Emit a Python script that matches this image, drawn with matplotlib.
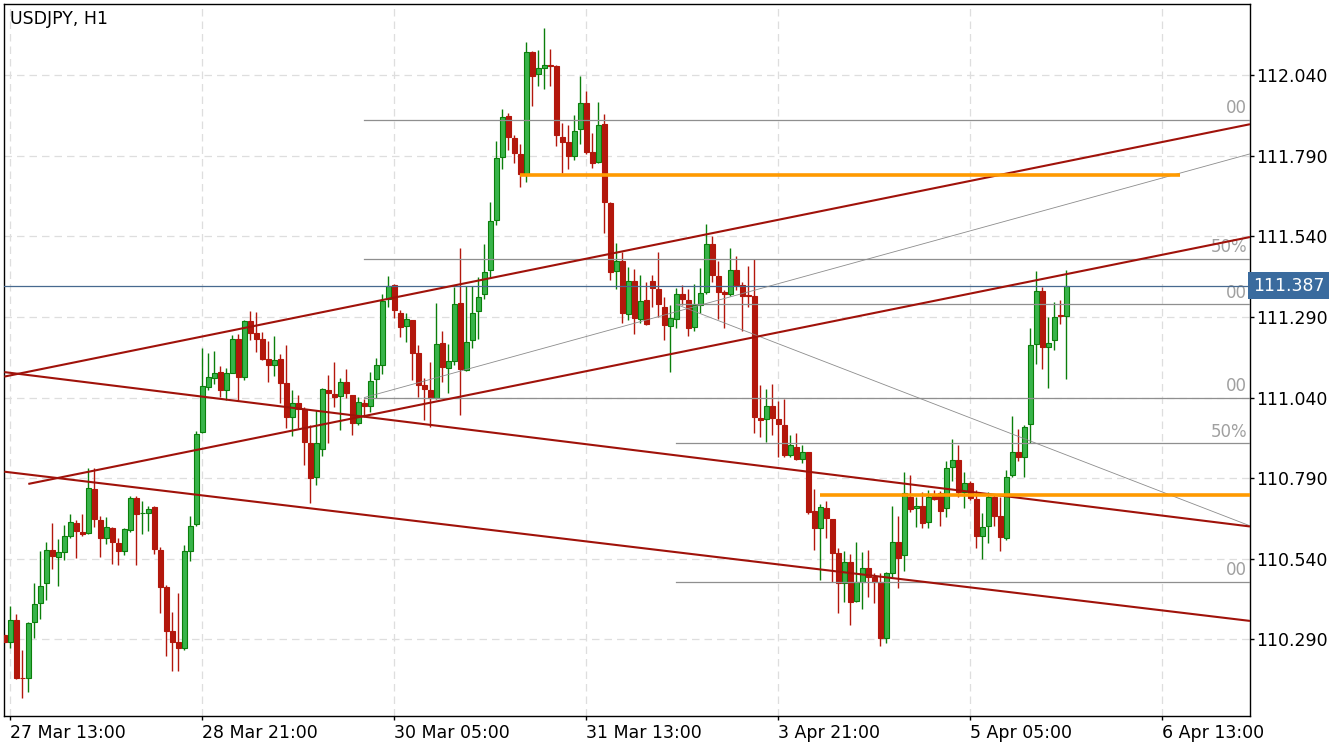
import numpy as np
import matplotlib
matplotlib.use("Agg")
import matplotlib.pyplot as plt

# USDJPY H1 candles, bar index 0 = 27 Mar 12:00
opens = [110.303, 110.283, 110.350, 110.171, 110.169, 110.343, 110.403, 110.464, 110.566, 110.544,
         110.560, 110.610, 110.650, 110.622, 110.619, 110.755, 110.659, 110.603, 110.634, 110.588,
         110.563, 110.629, 110.728, 110.681, 110.681, 110.700, 110.566, 110.451, 110.315, 110.281,
         110.264, 110.565, 110.647, 110.932, 111.074, 111.102, 111.118, 111.062, 111.117, 111.221,
         111.105, 111.277, 111.239, 111.221, 111.159, 111.140, 111.159, 111.084, 110.981, 111.022,
         111.006, 110.900, 110.795, 110.880, 111.064, 111.051, 111.045, 111.088, 111.048, 110.960,
         111.022, 111.015, 111.097, 111.140, 111.345, 111.389, 111.302, 111.262, 111.281, 111.177,
         111.079, 111.064, 111.038, 111.208, 111.133, 111.154, 111.332, 111.126, 111.220, 111.309,
         111.361, 111.436, 111.591, 111.785, 111.912, 111.845, 111.795, 111.734, 112.111, 112.043,
         112.062, 112.072, 112.068, 111.848, 111.832, 111.788, 111.872, 111.953, 111.801, 111.770,
         111.888, 111.643, 111.433, 111.464, 111.298, 111.401, 111.283, 111.343, 111.402, 111.376,
         111.320, 111.263, 111.283, 111.360, 111.343, 111.258, 111.327, 111.367, 111.517, 111.417,
         111.369, 111.360, 111.436, 111.388, 111.357, 111.355, 110.976, 110.973, 111.014, 110.973,
         110.955, 110.862, 110.887, 110.849, 110.870, 110.688, 110.634, 110.696, 110.662, 110.557,
         110.464, 110.531, 110.410, 110.469, 110.510, 110.484, 110.469, 110.295, 110.497, 110.593,
         110.550, 110.733, 110.696, 110.704, 110.653, 110.735, 110.745, 110.696, 110.823, 110.846,
         110.748, 110.774, 110.724, 110.612, 110.640, 110.733, 110.671, 110.603, 110.800, 110.872,
         110.857, 110.957, 111.205, 111.371, 111.198, 111.217, 111.295, 111.294]
highs = [110.306, 110.393, 110.369, 110.257, 110.345, 110.465, 110.564, 110.591, 110.651, 110.601,
         110.645, 110.678, 110.659, 110.678, 110.820, 110.820, 110.674, 110.670, 110.637, 110.604,
         110.635, 110.734, 110.734, 110.719, 110.704, 110.704, 110.575, 110.457, 110.374, 110.433,
         110.582, 110.673, 110.936, 111.193, 111.178, 111.185, 111.138, 111.133, 111.234, 111.237,
         111.281, 111.309, 111.306, 111.243, 111.216, 111.230, 111.174, 111.203, 111.064, 111.048,
         111.012, 110.955, 111.002, 111.070, 111.110, 111.150, 111.102, 111.129, 111.048, 111.043,
         111.036, 111.119, 111.164, 111.361, 111.417, 111.392, 111.312, 111.302, 111.281, 111.203,
         111.100, 111.151, 111.334, 111.247, 111.206, 111.384, 111.503, 111.387, 111.387, 111.413,
         111.517, 111.646, 111.837, 111.934, 111.922, 111.855, 111.827, 112.143, 112.115, 112.118,
         112.186, 112.122, 112.072, 111.891, 111.886, 111.917, 112.038, 111.992, 111.860, 111.957,
         111.919, 111.648, 111.521, 111.493, 111.446, 111.439, 111.420, 111.398, 111.420, 111.493,
         111.353, 111.327, 111.379, 111.389, 111.376, 111.393, 111.441, 111.579, 111.541, 111.465,
         111.374, 111.503, 111.479, 111.400, 111.448, 111.469, 111.079, 111.066, 111.082, 111.030,
         111.036, 110.924, 110.931, 110.893, 110.872, 110.756, 110.710, 110.719, 110.664, 110.572,
         110.564, 110.555, 110.593, 110.562, 110.567, 110.495, 110.495, 110.498, 110.705, 110.673,
         110.810, 110.800, 110.733, 110.748, 110.753, 110.753, 110.751, 110.843, 110.912, 110.893,
         110.810, 110.781, 110.753, 110.681, 110.748, 110.738, 110.733, 110.815, 110.983, 110.942,
         110.955, 111.255, 111.433, 111.384, 111.289, 111.335, 111.343, 111.436]
lows = [110.280, 110.262, 110.166, 110.107, 110.128, 110.293, 110.353, 110.413, 110.508, 110.456,
        110.537, 110.605, 110.543, 110.610, 110.617, 110.639, 110.546, 110.585, 110.524, 110.519,
        110.553, 110.624, 110.521, 110.617, 110.627, 110.555, 110.373, 110.238, 110.193, 110.193,
        110.257, 110.534, 110.642, 110.929, 111.064, 111.082, 111.041, 111.033, 111.115, 111.031,
        111.093, 111.217, 111.182, 111.155, 111.089, 111.108, 111.022, 110.945, 110.922, 110.947,
        110.831, 110.713, 110.770, 110.860, 110.900, 111.010, 110.940, 111.038, 110.924, 110.955,
        110.981, 110.996, 111.038, 111.113, 111.320, 111.288, 111.229, 111.213, 111.095, 111.043,
        110.970, 110.950, 111.035, 111.089, 111.055, 111.141, 110.986, 111.121, 111.193, 111.221,
        111.346, 111.415, 111.575, 111.748, 111.808, 111.767, 111.694, 111.710, 111.946, 112.008,
        111.996, 112.008, 111.819, 111.736, 111.749, 111.777, 111.827, 111.795, 111.751, 111.767,
        111.550, 111.405, 111.376, 111.270, 111.281, 111.236, 111.270, 111.265, 111.322, 111.291,
        111.219, 111.120, 111.257, 111.327, 111.231, 111.247, 111.301, 111.362, 111.397, 111.283,
        111.257, 111.355, 111.374, 111.245, 111.322, 110.929, 110.919, 110.903, 110.924, 110.857,
        110.857, 110.857, 110.846, 110.836, 110.680, 110.567, 110.474, 110.605, 110.467, 110.373,
        110.407, 110.334, 110.407, 110.384, 110.422, 110.402, 110.270, 110.278, 110.484, 110.450,
        110.503, 110.686, 110.638, 110.634, 110.634, 110.722, 110.643, 110.669, 110.782, 110.731,
        110.696, 110.722, 110.574, 110.538, 110.588, 110.640, 110.565, 110.598, 110.793, 110.844,
        110.793, 110.900, 111.144, 111.128, 111.071, 111.186, 111.268, 111.097]
closes = [110.283, 110.350, 110.171, 110.170, 110.340, 110.399, 110.454, 110.566, 110.547, 110.560,
          110.610, 110.653, 110.625, 110.618, 110.758, 110.662, 110.603, 110.637, 110.593, 110.565,
          110.631, 110.728, 110.680, 110.682, 110.695, 110.569, 110.453, 110.317, 110.283, 110.264,
          110.563, 110.643, 110.926, 111.075, 111.103, 111.115, 111.062, 111.115, 111.221, 111.105,
          111.277, 111.241, 111.223, 111.161, 111.142, 111.157, 111.086, 110.981, 111.022, 111.006,
          110.903, 110.790, 110.900, 111.066, 111.055, 111.043, 111.088, 111.053, 110.960, 111.025,
          111.014, 111.092, 111.140, 111.338, 111.386, 111.311, 111.260, 111.283, 111.179, 111.079,
          111.066, 111.038, 111.206, 111.136, 111.154, 111.329, 111.128, 111.212, 111.303, 111.353,
          111.431, 111.589, 111.782, 111.910, 111.848, 111.800, 111.733, 112.111, 112.039, 112.062,
          112.071, 112.070, 111.855, 111.834, 111.788, 111.868, 111.953, 111.803, 111.767, 111.885,
          111.648, 111.431, 111.464, 111.301, 111.401, 111.286, 111.338, 111.267, 111.379, 111.329,
          111.265, 111.286, 111.360, 111.346, 111.257, 111.327, 111.364, 111.516, 111.420, 111.366,
          111.360, 111.436, 111.389, 111.356, 111.355, 110.981, 110.970, 111.014, 110.976, 110.957,
          110.862, 110.893, 110.849, 110.870, 110.686, 110.636, 110.700, 110.665, 110.557, 110.464,
          110.531, 110.407, 110.469, 110.510, 110.484, 110.469, 110.295, 110.495, 110.593, 110.543,
          110.743, 110.693, 110.704, 110.650, 110.731, 110.726, 110.689, 110.821, 110.846, 110.748,
          110.774, 110.728, 110.612, 110.638, 110.733, 110.674, 110.606, 110.795, 110.872, 110.857,
          110.950, 111.203, 111.371, 111.196, 111.208, 111.289, 111.293, 111.387]

time_ticks = [1, 33, 65, 97, 129, 161, 193]
time_labels = ["27 Mar 13:00", "28 Mar 21:00", "30 Mar 05:00", "31 Mar 13:00",
               "3 Apr 21:00", "5 Apr 05:00", "6 Apr 13:00"]
price_ticks = [110.290, 110.540, 110.790, 111.040, 111.290, 111.540, 111.790, 112.040]

# drawn objects (bar index, price)
channel_x = [[0, 207.6], [4, 207.6], [0, 207.6], [0, 207.6]]
channel_y = [[111.105, 111.888], [110.772, 111.538], [111.119, 110.640], [110.810, 110.347]]
ray_x = [[60, 207.6], [112, 207.6]]
ray_y = [[111.040, 111.796], [111.329, 110.642]]
fib_start = [60, 112]
fib_levels = [[111.901, 111.4705, 111.040], [111.329, 110.898, 110.467]]
fib_labels = [["00", "50%", "00"], ["00", "50%", "00"]]
orange_x = [[86, 196], [136, 207.6]]
orange_y = [111.731, 110.737]
last_price = closes[-1]

xmax = 207.6
fig = plt.figure(figsize=(13.34, 7.5), dpi=100)
ax = fig.add_axes([4.3 / 1334, 34 / 750, 1245.7 / 1334, 712 / 750])

o, h, l, c = map(np.array, (opens, highs, lows, closes))
idx = np.arange(len(o))
up = c > o
fill = np.where(up, "#38b44a", "#b3170c")
edge = np.where(up, "#0b7f0b", "#b3170c")
ax.vlines(idx, l, h, colors=edge, lw=1.0, zorder=2)
ax.bar(idx, np.maximum(np.abs(c - o), 0.0008), bottom=np.minimum(o, c), width=0.75,
       color=fill, edgecolor=edge, linewidth=0.8, zorder=3)

ax.axhline(last_price, color="#47698f", lw=0.9, zorder=4)

for st, levels, labs in zip(fib_start, fib_levels, fib_labels):
    for lev, lab in zip(levels, labs):
        ax.plot([st, xmax], [lev, lev], color="#8f8f8f", lw=0.9, zorder=4)
        ax.annotate(lab, xy=(xmax, lev), xytext=(-2, 2), textcoords="offset points",
                    ha="right", va="bottom", color="#a0a0a0", fontsize=12)

for xs, ys in zip(ray_x, ray_y):
    ax.plot(xs, ys, color="#8c8c8c", lw=0.6, zorder=4)

for xs, ys in zip(channel_x, channel_y):
    ax.plot(xs, ys, color="#a0120a", lw=1.5, solid_capstyle="butt", zorder=5)

for xs, yv in zip(orange_x, orange_y):
    ax.plot(xs, [yv, yv], color="#ff9a00", lw=2.6, solid_capstyle="butt", zorder=6)

ax.set_xlim(0, xmax)
ax.set_ylim(110.052, 112.261)

ax.set_xticks(time_ticks)
ax.set_xticklabels(time_labels, ha="left")
ax.set_yticks(price_ticks)
ax.set_yticklabels(["%.3f" % p for p in price_ticks])
ax.yaxis.tick_right()
ax.tick_params(axis="both", direction="out", length=3, width=1, labelsize=12.5, colors="black")
ax.tick_params(axis="y", pad=1.5)
ax.tick_params(axis="x", pad=2.5)
ax.grid(True, color="#dedede", linestyle=(0, (6, 4)), lw=0.9, zorder=0)
ax.set_axisbelow(True)
for sp in ax.spines.values():
    sp.set_color("black")
    sp.set_linewidth(1.0)

ax.annotate("%.3f" % last_price, xy=(1, last_price), xycoords=("axes fraction", "data"),
            xytext=(2, 0), textcoords="offset points", ha="left", va="center",
            color="white", fontsize=12.5, annotation_clip=False,
            bbox=dict(boxstyle="square,pad=0.25", fc="#3a6b9e", ec="none"))

fig.text(10 / 1334, 1 - 19 / 750, "USDJPY, H1", ha="left", va="center", fontsize=12.5)

fig.savefig("out.png", dpi=100)
